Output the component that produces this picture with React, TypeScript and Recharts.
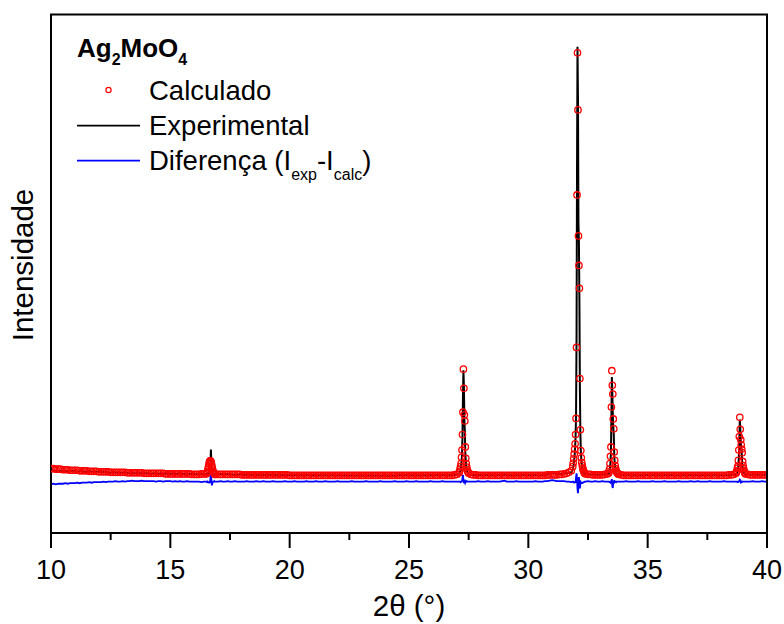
import React from 'react';
import { ComposedChart, Line, XAxis, YAxis } from 'recharts';

const FONT = "Arial, 'Liberation Sans', Helvetica, sans-serif";

// Scan definition: [start 2θ, step, number of points]
const scanSegments: [number, number, number][] = [
  [10.0, 0.1, 65],
  [16.5, 0.02, 21],
  [17.0, 0.1, 101],
  [27.1, 0.02, 21],
  [27.6, 0.1, 43],
  [31.86, 0.02, 26],
  [32.4, 0.1, 10],
  [33.36, 0.02, 21],
  [33.8, 0.1, 49],
  [38.7, 0.02, 21],
  [39.2, 0.1, 9],
];

const experimental = [
  // 10.0–16.4
  12.0, 12.1, 11.9, 12.0, 12.0, 11.9, 12.0, 11.9, 11.9, 12.0,
  11.9, 11.8, 11.9, 11.9, 11.8, 11.8, 11.9, 11.8, 11.7, 11.8,
  11.8, 11.7, 11.8, 11.7, 11.7, 11.6, 11.7, 11.7, 11.6, 11.6,
  11.6, 11.7, 11.6, 11.5, 11.6, 11.5, 11.6, 11.5, 11.5, 11.6,
  11.5, 11.5, 11.4, 11.5, 11.5, 11.4, 11.5, 11.4, 11.5, 11.4,
  11.4, 11.5, 11.4, 11.4, 11.5, 11.4, 11.4, 11.3, 11.4, 11.4,
  11.4, 11.3, 11.4, 11.4, 11.3,
  // 16.50–16.90
  11.4, 11.4, 11.3, 11.4, 11.4, 11.4, 11.5, 11.5, 11.8, 13.0, 16.1, 13.5, 12.0, 11.6, 11.4, 11.4, 11.3, 11.4, 11.3, 11.3, 11.3,
  // 17.0–27.0
  11.3, 11.4, 11.3, 11.3, 11.4, 11.3, 11.3, 11.2, 11.3, 11.3,
  11.3, 11.2, 11.3, 11.3, 11.2, 11.3, 11.2, 11.2, 11.3, 11.2,
  11.2, 11.3, 11.2, 11.2, 11.2, 11.1, 11.2, 11.2, 11.1, 11.2,
  11.2, 11.1, 11.2, 11.2, 11.1, 11.2, 11.1, 11.2, 11.2, 11.1,
  11.2, 11.1, 11.1, 11.2, 11.1, 11.2, 11.1, 11.1, 11.2, 11.1,
  11.1, 11.2, 11.1, 11.1, 11.2, 11.1, 11.1, 11.0, 11.1, 11.1,
  11.1, 11.1, 11.0, 11.1, 11.1, 11.0, 11.1, 11.1, 11.0, 11.1,
  11.1, 11.0, 11.1, 11.1, 11.0, 11.1, 11.2, 11.1, 11.1, 11.2,
  11.2, 11.1, 11.2, 11.2, 11.1, 11.2, 11.2, 11.1, 11.2, 11.2,
  11.1, 11.2, 11.2, 11.1, 11.2, 11.2, 11.1, 11.2, 11.2, 11.2,
  11.3,
  // 27.10–27.50
  11.3, 11.5, 11.8, 12.2, 12.8, 13.6, 15.0, 18.5, 26.0, 31.4, 28.5, 22.0, 19.5, 15.5, 13.8, 12.8, 12.2, 11.8, 11.6, 11.4, 11.3,
  // 27.6–31.8
  11.2, 11.2, 11.1, 11.2,
  11.2, 11.1, 11.2, 11.2, 11.1, 11.2, 11.1, 11.2, 11.2, 11.1,
  11.3, 11.2, 11.2, 11.1, 11.2, 11.2, 11.1, 11.2, 11.2, 11.2,
  11.2, 11.1, 11.2, 11.2, 11.2, 11.1, 11.2, 11.2, 11.3, 11.4,
  11.6, 11.5, 11.4, 11.4, 11.4, 11.5, 11.5, 11.6, 11.7,
  // 31.86–32.36
  12.2, 12.6, 13.2, 14.0, 15.0, 16.5, 18.5, 23.0, 38.0, 70.0, 93.8, 84.0, 60.0, 56.0, 45.0, 28.0, 19.5, 15.8, 14.2, 13.3, 12.7, 12.3, 12.0, 11.8, 11.6, 11.5,
  // 32.4–33.3
  11.4, 11.4, 11.3, 11.3, 11.3, 11.2, 11.3, 11.3, 11.3, 11.4,
  // 33.36–33.76
  11.3, 11.5, 11.9, 12.5, 13.5, 15.5, 22.0, 30.1, 27.0, 22.5, 20.5, 19.0, 15.0, 13.5, 12.6, 12.1, 11.8, 11.6, 11.4, 11.3, 11.3,
  // 33.8–38.6
  11.3, 11.2,
  11.2, 11.3, 11.2, 11.2, 11.1, 11.2, 11.2, 11.1, 11.2, 11.2,
  11.2, 11.1, 11.2, 11.2, 11.2, 11.1, 11.2, 11.2, 11.1, 11.2,
  11.2, 11.2, 11.1, 11.2, 11.2, 11.2, 11.1, 11.2, 11.2, 11.1,
  11.2, 11.2, 11.1, 11.2, 11.2, 11.2, 11.1, 11.2, 11.2, 11.2,
  11.1, 11.2, 11.2, 11.2, 11.2, 11.2, 11.3,
  // 38.70–39.10
  11.3, 11.4, 11.6, 11.9, 12.3, 13.0, 14.5, 17.0, 21.9, 20.5, 17.5, 16.6, 15.5, 13.5, 12.6, 12.1, 11.8, 11.6, 11.4, 11.3, 11.3,
  // 39.2–40.0
  11.3, 11.2, 11.3, 11.3, 11.2, 11.3, 11.3, 11.2, 11.3,
];

const calculated = [
  // 10.0–16.4
  12.4, 12.4, 12.3, 12.3, 12.3, 12.2, 12.2, 12.2, 12.1, 12.1,
  12.1, 12.1, 12.0, 12.0, 12.0, 12.0, 11.9, 11.9, 11.9, 11.9,
  11.8, 11.8, 11.8, 11.8, 11.8, 11.7, 11.7, 11.7, 11.7, 11.7,
  11.7, 11.7, 11.6, 11.6, 11.6, 11.6, 11.6, 11.6, 11.6, 11.5,
  11.5, 11.5, 11.5, 11.5, 11.5, 11.5, 11.5, 11.5, 11.4, 11.4,
  11.4, 11.4, 11.4, 11.4, 11.4, 11.4, 11.4, 11.4, 11.4, 11.3,
  11.3, 11.3, 11.3, 11.4, 11.4,
  // 16.50–16.90
  11.4, 11.5, 11.7, 11.9, 12.3, 12.8, 13.3, 13.7, 13.9, 13.9, 13.8, 13.5, 13.0, 12.5, 12.1, 11.8, 11.6, 11.5, 11.4, 11.3, 11.3,
  // 17.0–27.0
  11.3, 11.3, 11.3, 11.3, 11.3, 11.3, 11.3, 11.3, 11.3, 11.3,
  11.2, 11.2, 11.2, 11.2, 11.2, 11.2, 11.2, 11.2, 11.2, 11.2,
  11.2, 11.2, 11.2, 11.2, 11.2, 11.2, 11.2, 11.2, 11.2, 11.2,
  11.1, 11.1, 11.1, 11.1, 11.1, 11.1, 11.1, 11.1, 11.1, 11.1,
  11.1, 11.1, 11.1, 11.1, 11.1, 11.1, 11.1, 11.1, 11.1, 11.1,
  11.1, 11.1, 11.1, 11.1, 11.1, 11.1, 11.1, 11.1, 11.1, 11.1,
  11.1, 11.1, 11.1, 11.1, 11.1, 11.1, 11.1, 11.1, 11.1, 11.1,
  11.1, 11.1, 11.1, 11.1, 11.1, 11.1, 11.1, 11.1, 11.1, 11.1,
  11.1, 11.1, 11.1, 11.1, 11.1, 11.1, 11.1, 11.1, 11.1, 11.1,
  11.1, 11.1, 11.1, 11.1, 11.1, 11.1, 11.1, 11.1, 11.1, 11.2,
  11.3,
  // 27.10–27.50
  11.6, 11.9, 12.3, 12.8, 13.4, 14.6, 16.0, 19.0, 23.3, 31.6, 27.9, 22.8, 21.6, 16.6, 14.4, 13.4, 12.7, 12.2, 11.9, 11.7, 11.5,
  // 27.6–31.8
  11.3, 11.2, 11.2, 11.1,
  11.1, 11.1, 11.1, 11.1, 11.1, 11.1, 11.1, 11.1, 11.1, 11.1,
  11.1, 11.1, 11.1, 11.1, 11.1, 11.1, 11.1, 11.1, 11.1, 11.1,
  11.1, 11.1, 11.1, 11.1, 11.1, 11.1, 11.1, 11.1, 11.2, 11.2,
  11.2, 11.2, 11.2, 11.3, 11.3, 11.4, 11.5, 11.7, 12.0,
  // 31.86–32.36
  12.8, 13.5, 14.3, 15.2, 16.2, 17.2, 19.0, 22.1, 35.8, 65.2, 92.6, 81.6, 57.3, 51.6, 47.2, 29.8, 19.9, 15.9, 14.5, 13.6, 13.0, 12.5, 12.2, 11.9, 11.7, 11.5,
  // 32.4–33.3
  11.4, 11.3, 11.3, 11.2, 11.2, 11.2, 11.2, 11.2, 11.3, 11.4,
  // 33.36–33.76
  11.5, 11.8, 12.3, 13.4, 14.8, 16.6, 24.3, 31.3, 28.5, 26.8, 22.0, 20.1, 15.6, 14.0, 13.0, 12.4, 12.0, 11.8, 11.6, 11.5, 11.4,
  // 33.8–38.6
  11.3, 11.2,
  11.1, 11.1, 11.1, 11.1, 11.1, 11.1, 11.1, 11.1, 11.1, 11.1,
  11.1, 11.1, 11.1, 11.1, 11.1, 11.1, 11.1, 11.1, 11.1, 11.1,
  11.1, 11.1, 11.1, 11.1, 11.1, 11.1, 11.1, 11.1, 11.1, 11.1,
  11.1, 11.1, 11.1, 11.1, 11.1, 11.1, 11.1, 11.1, 11.1, 11.1,
  11.1, 11.1, 11.1, 11.1, 11.2, 11.2, 11.3,
  // 38.70–39.10
  11.5, 11.7, 12.0, 12.5, 12.9, 14.0, 16.0, 18.6, 22.3, 20.0, 18.0, 17.0, 16.2, 15.5, 13.8, 13.0, 12.4, 12.0, 11.7, 11.5, 11.4,
  // 39.2–40.0
  11.3, 11.2, 11.2, 11.2, 11.2, 11.2, 11.2, 11.2, 11.2,
];

const difference = [
  // 10.0–16.4
  9.4, 9.5, 9.4, 9.5, 9.5, 9.5, 9.6, 9.5, 9.6, 9.6,
  9.6, 9.7, 9.6, 9.7, 9.7, 9.7, 9.8, 9.7, 9.8, 9.8,
  9.8, 9.8, 9.9, 9.8, 9.9, 9.9, 9.9, 10.0, 9.9, 9.9,
  10.0, 9.9, 10.0, 10.0, 10.1, 10.0, 10.0, 10.0, 10.1, 10.0,
  10.0, 10.0, 10.0, 10.0, 9.9, 10.0, 10.0, 9.9, 10.0, 10.0,
  10.0, 9.9, 10.0, 9.9, 10.0, 9.9, 9.9, 10.0, 9.9, 9.9,
  9.9, 9.9, 9.9, 9.8, 9.9,
  // 16.50–16.90
  9.9, 9.9, 9.8, 9.9, 9.8, 9.8, 9.7, 9.7, 9.8, 10.5, 12.3, 10.2, 9.2, 9.6, 9.8, 9.9, 9.9, 10.0, 9.9, 9.9, 9.9,
  // 17.0–27.0
  9.9, 10.0, 9.9, 9.9, 10.0, 9.9, 9.9, 10.0, 9.9, 9.9,
  9.9, 9.9, 10.0, 9.9, 9.9, 9.9, 10.0, 9.9, 9.9, 10.0,
  9.9, 9.9, 9.9, 10.0, 9.9, 9.9, 9.9, 9.9, 10.0, 9.9,
  9.9, 9.9, 10.0, 9.9, 9.9, 9.9, 9.9, 10.0, 9.9, 9.9,
  9.9, 10.0, 9.9, 9.9, 9.9, 10.0, 9.9, 9.9, 9.9, 9.9,
  10.0, 9.9, 9.9, 9.9, 9.9, 9.9, 10.0, 9.9, 9.9, 9.9,
  9.9, 9.9, 10.0, 9.9, 9.9, 9.9, 9.9, 9.9, 10.0, 9.9,
  9.9, 9.9, 9.9, 9.9, 10.0, 9.9, 9.9, 9.9, 9.9, 10.0,
  9.9, 9.9, 9.9, 10.0, 9.9, 9.9, 9.9, 9.9, 9.9, 10.0,
  9.9, 9.9, 9.9, 9.9, 10.0, 9.9, 9.9, 9.9, 9.9, 9.9,
  9.9,
  // 27.10–27.50
  9.9, 9.9, 9.9, 9.8, 9.9, 9.9, 10.0, 10.4, 11.2, 10.2, 9.6, 9.9, 10.3, 9.7, 9.9, 9.9, 10.0, 9.9, 9.9, 9.9, 9.9,
  // 27.6–31.8
  9.9, 9.9, 9.9, 10.0,
  9.9, 9.9, 9.9, 10.0, 9.9, 9.9, 9.9, 9.9, 9.9, 10.0,
  10.1, 9.9, 9.9, 9.9, 9.9, 10.0, 9.9, 9.9, 9.9, 9.9,
  9.9, 9.9, 9.9, 10.0, 9.9, 9.9, 9.9, 10.0, 10.0, 10.1,
  10.2, 10.1, 10.0, 10.0, 10.0, 10.0, 9.9, 9.9, 9.8,
  // 31.86–32.36
  9.9, 9.9, 9.8, 9.7, 9.7, 9.8, 9.8, 10.8, 11.5, 10.6, 8.5, 7.7, 9.0, 10.8, 9.6, 8.6, 9.4, 9.8, 9.6, 9.6, 9.6, 9.7, 9.7, 9.8, 9.8, 9.9,
  // 32.4–33.3
  9.9, 10.0, 9.9, 9.9, 10.0, 9.9, 9.9, 10.0, 9.9, 9.9,
  // 33.36–33.76
  9.9, 9.9, 9.8, 9.8, 9.7, 9.9, 9.6, 10.4, 9.0, 8.7, 10.0, 9.6, 10.2, 9.8, 9.9, 9.9, 9.8, 9.9, 9.9, 9.9, 9.9,
  // 33.8–38.6
  9.9, 9.9,
  9.9, 10.0, 9.9, 9.9, 9.9, 9.9, 10.0, 9.9, 9.9, 9.9,
  9.9, 9.9, 10.0, 9.9, 9.9, 9.9, 9.9, 10.0, 9.9, 9.9,
  9.9, 9.9, 9.9, 10.0, 9.9, 9.9, 9.9, 9.9, 10.0, 9.9,
  9.9, 10.0, 9.9, 9.9, 9.9, 9.9, 10.0, 9.9, 9.9, 9.9,
  9.9, 9.9, 10.0, 9.9, 9.9, 9.9, 9.9,
  // 38.70–39.10
  9.9, 9.9, 9.9, 9.8, 9.8, 9.9, 9.9, 10.1, 10.3, 10.2, 9.8, 9.9, 9.8, 9.9, 9.9, 9.9, 9.9, 9.9, 9.9, 9.9, 9.9,
  // 39.2–40.0
  9.9, 9.9, 10.0, 9.9, 9.9, 9.9, 10.0, 9.9, 9.9,
];

const xTicks = [10, 12.5, 15, 17.5, 20, 22.5, 25, 27.5, 30, 32.5, 35, 37.5, 40];
const majorTicks = [10, 15, 20, 25, 30, 35, 40];

const twoTheta: number[] = [];
scanSegments.forEach(([start, step, count]) => {
  for (let i = 0; i < count; i++) twoTheta.push(Math.round((start + i * step) * 100) / 100);
});

const data = twoTheta.map((x, i) => ({
  x,
  exp: experimental[i],
  calc: calculated[i],
  diff: difference[i],
}));

function XTick(props: any) {
  const { x, y, payload } = props;
  const v = payload.value;
  const major = majorTicks.includes(v);
  return (
    <g>
      <line x1={x} y1={y} x2={x} y2={y + (major ? 15 : 7)} stroke="#000" strokeWidth={2} />
      {major && (
        <text x={x} y={y + 46} textAnchor="middle" fontSize={27} fill="#000" fontFamily={FONT}>
          {v}
        </text>
      )}
    </g>
  );
}

export default function App() {
  return (
    <div style={{ position: 'absolute', left: 0, top: 0, width: 784, height: 624, background: '#fff' }}>
      <ComposedChart
        width={784}
        height={624}
        data={data}
        margin={{ top: 14.5, right: 17, bottom: 0, left: 0 }}
      >
        <XAxis
          dataKey="x"
          type="number"
          domain={[10, 40]}
          ticks={xTicks}
          interval={0}
          height={91}
          tickSize={0}
          tickMargin={0}
          tickLine={false}
          tick={<XTick />}
          axisLine={{ stroke: '#000', strokeWidth: 2 }}
          allowDataOverflow
        />
        <YAxis
          type="number"
          domain={[0, 100]}
          width={51}
          tick={false}
          tickLine={false}
          axisLine={{ stroke: '#000', strokeWidth: 2 }}
          allowDataOverflow
        />
        <Line
          dataKey="calc"
          stroke="none"
          dot={{ r: 3.2, stroke: '#ff0000', strokeWidth: 1.3, fill: 'none' }}
          activeDot={false}
          isAnimationActive={false}
        />
        <Line
          dataKey="exp"
          stroke="#000"
          strokeWidth={2}
          dot={false}
          activeDot={false}
          type="linear"
          isAnimationActive={false}
        />
        <Line
          dataKey="diff"
          stroke="#0000ff"
          strokeWidth={1.8}
          dot={false}
          activeDot={false}
          type="linear"
          isAnimationActive={false}
        />
      </ComposedChart>
      <svg
        width={784}
        height={624}
        style={{ position: 'absolute', left: 0, top: 0, pointerEvents: 'none' }}
        fontFamily={FONT}
      >
        <line x1={50} y1={14.5} x2={768} y2={14.5} stroke="#000" strokeWidth={2} />
        <line x1={767} y1={14.5} x2={767} y2={533} stroke="#000" strokeWidth={2} />
        <text x={77} y={57} fontSize={26} fontWeight="bold" fill="#000">
          Ag<tspan fontSize={16} dy={8}>2</tspan>
          <tspan dy={-8}>MoO</tspan>
          <tspan fontSize={16} dy={8}>4</tspan>
        </text>
        <circle cx={108.5} cy={90} r={2.6} stroke="#ff0000" strokeWidth={1.2} fill="none" />
        <text x={149} y={100} fontSize={27.5} fill="#000">Calculado</text>
        <line x1={77} y1={125.7} x2={140} y2={125.7} stroke="#000" strokeWidth={1.8} />
        <text x={149} y={135} fontSize={27.5} fill="#000">Experimental</text>
        <line x1={77} y1={160.7} x2={140} y2={160.7} stroke="#0000ff" strokeWidth={1.8} />
        <text x={149} y={170} fontSize={27.5} fill="#000">
          Diferença (I<tspan fontSize={16} dy={10}>exp</tspan>
          <tspan dy={-10}>-I</tspan>
          <tspan fontSize={16} dy={10}>calc</tspan>
          <tspan dy={-10}>)</tspan>
        </text>
        <text x={409} y={616} fontSize={29.5} textAnchor="middle" fill="#000">2θ (°)</text>
        <text
          x={33}
          y={265}
          fontSize={29.5}
          textAnchor="middle"
          fill="#000"
          transform="rotate(-90 33 265)"
        >
          Intensidade
        </text>
      </svg>
    </div>
  );
}
